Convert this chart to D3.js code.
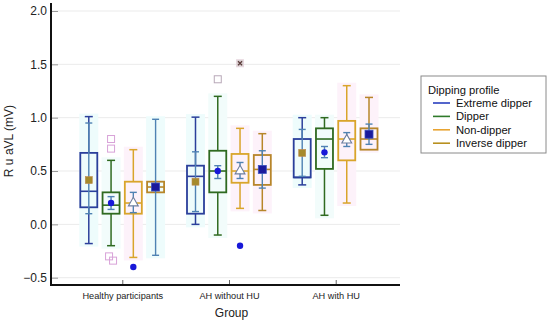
<!DOCTYPE html>
<html>
<head>
<meta charset="utf-8">
<script src="https://cdn.jsdelivr.net/npm/d3@7"></script>
<style>
  body { margin: 0; background: #fff; }
  text { font-family: "Liberation Sans", Arial, sans-serif; }
</style>
</head>
<body>
<svg id="chart"></svg>
<script>
const WIDTH = 550;
const HEIGHT = 322;

// groups and dipping profiles
const groups = ["Healthy participants", "AH without HU", "AH with HU"];
const profiles = ["Extreme dipper", "Dipper", "Non-dipper", "Inverse dipper"];
const yTicks = [-0.5, 0.0, 0.5, 1.0, 1.5, 2.0];

// box stats, one row per group, one value per profile
const whiskLo = [[-0.18, -0.20, -0.31, 0.30], [0.00, -0.10, 0.15, 0.13], [0.37, 0.085, 0.20, 0.70]];
const q1      = [[0.16, 0.10, 0.10, 0.30], [0.10, 0.30, 0.39, 0.37], [0.44, 0.52, 0.60, 0.70]];
const median  = [[0.31, 0.18, 0.20, 0.35], [0.45, 0.50, 0.50, 0.515], [0.44, 0.80, 0.80, 0.80]];
const q3      = [[0.67, 0.30, 0.40, 0.40], [0.55, 0.69, 0.66, 0.65], [0.80, 0.90, 0.97, 0.90]];
const whiskHi = [[1.01, 0.60, 0.70, 0.40], [1.005, 1.20, 0.90, 0.85], [1.00, 1.00, 1.30, 1.19]];
const means   = [[0.415, 0.20, 0.20, 0.35], [0.40, 0.50, 0.50, 0.515], [0.67, 0.675, 0.79, 0.845]];
const ciLo    = [[0.10, 0.14, 0.11, -0.29], [0.12, 0.43, 0.43, 0.34], [0.45, 0.625, 0.73, 0.75]];
const ciHi    = [[0.95, 0.26, 0.30, 0.985], [0.68, 0.55, 0.58, 0.69], [0.89, 0.73, 0.86, 0.94]];

// outliers: group index, profile index, value, kind, small x shift
const outGroup = [0, 0, 0, 0, 0, 1, 1, 1];
const outProf  = [1, 1, 1, 1, 2, 1, 2, 2];
const outValue = [0.80, 0.71, -0.30, -0.34, -0.40, 1.36, 1.51, -0.20];
const outKind  = ["pink", "pink", "pink", "pink", "dot", "open", "cross", "dot"];
const outShift = [0, 0, -2, 2, 0, 0, 0, 0];

const boxColors = ["#2b3f9b", "#2f6a20", "#d9a52b", "#b7862a"];
const legendColors = ["#2a3fbf", "#2f7a2a", "#e8a432", "#b8901f"];
const tints = ["#eefcfc", "#f2fcfb", "#fdf2fa", "#fdf2fa"];
const ciColor = "#4f82b3";

const svg = d3.select("#chart")
  .attr("width", WIDTH)
  .attr("height", HEIGHT);

const AX_LEFT = 51, AX_RIGHT = 400, AX_BOTTOM = 285, AX_TOP = 3;

const y = d3.scaleLinear().domain([-0.5, 2.0]).range([277.7, 11]);
const xGroup = d3.scalePoint().domain(groups).range([54, 404]).padding(0.64);
const xProf = d3.scalePoint().domain(profiles).range([-33.5, 33.3]);

const boxW = 17;
const capW = 8;
const ciCapW = 7;

// grid
svg.append("g")
  .selectAll("line")
  .data(yTicks)
  .join("line")
  .attr("x1", AX_LEFT)
  .attr("x2", AX_RIGHT)
  .attr("y1", d => y(d))
  .attr("y2", d => y(d))
  .attr("stroke", "#ebebeb")
  .attr("stroke-width", 1);

// y axis
const yAxis = d3.axisLeft(y).tickValues(yTicks).tickSize(-7).tickPadding(4)
  .tickFormat(d => d3.format(".1f")(d).replace("-", "\u2212"));
const gy = svg.append("g")
  .attr("transform", `translate(${AX_LEFT},0)`)
  .call(yAxis);
gy.select(".domain").remove();
gy.selectAll(".tick line").attr("stroke", "#999");
gy.selectAll("text").attr("font-size", 12).attr("fill", "#222")
  .attr("font-family", "Liberation Sans, Arial, sans-serif");

// x axis
const xAxis = d3.axisBottom(xGroup).tickSize(-5).tickPadding(7);
const gx = svg.append("g")
  .attr("transform", `translate(0,${AX_BOTTOM})`)
  .call(xAxis);
gx.select(".domain").remove();
gx.selectAll(".tick line").attr("stroke", "#666");
gx.selectAll("text").attr("font-size", 9.2).attr("fill", "#222")
  .attr("font-family", "Liberation Sans, Arial, sans-serif");

svg.append("line")
  .attr("x1", AX_LEFT).attr("x2", AX_LEFT)
  .attr("y1", AX_TOP).attr("y2", AX_BOTTOM + 1)
  .attr("stroke", "#111").attr("stroke-width", 2);
svg.append("line")
  .attr("x1", AX_LEFT - 1).attr("x2", AX_RIGHT)
  .attr("y1", AX_BOTTOM).attr("y2", AX_BOTTOM)
  .attr("stroke", "#111").attr("stroke-width", 2);

// titles
svg.append("text")
  .attr("x", (AX_LEFT + AX_RIGHT) / 2 + 6)
  .attr("y", 317)
  .attr("text-anchor", "middle")
  .attr("font-size", 12)
  .attr("fill", "#222")
  .text("Group");

svg.append("text")
  .attr("transform", "translate(13,141) rotate(-90)")
  .attr("text-anchor", "middle")
  .attr("font-size", 12)
  .attr("fill", "#222")
  .text("R u aVL (mV)");

// build boxes from the arrays
const boxes = [];
groups.forEach((g, gi) => {
  profiles.forEach((p, pi) => {
    boxes.push({
      g, p, pi,
      lo: whiskLo[gi][pi], q1: q1[gi][pi], med: median[gi][pi], q3: q3[gi][pi],
      hi: whiskHi[gi][pi], mean: means[gi][pi], ciLo: ciLo[gi][pi], ciHi: ciHi[gi][pi]
    });
  });
});

const cx = d => xGroup(d.g) + xProf(d.p);

const plot = svg.append("g");

// faint tint behind each box
plot.selectAll("rect.tint")
  .data(boxes)
  .join("rect")
  .attr("class", "tint")
  .attr("x", d => cx(d) - boxW / 2 - 1)
  .attr("width", boxW + 2)
  .attr("y", d => y(Math.max(d.hi, d.ciHi)) - 3)
  .attr("height", d => y(Math.min(d.lo, d.ciLo)) - y(Math.max(d.hi, d.ciHi)) + 6)
  .attr("fill", d => d.g === groups[0] && d.pi === 3 ? tints[0] : tints[d.pi]);

const bg = plot.selectAll("g.box")
  .data(boxes)
  .join("g")
  .attr("class", "box");

// whiskers
bg.append("line")
  .attr("x1", cx).attr("x2", cx)
  .attr("y1", d => y(d.hi)).attr("y2", d => y(d.q3))
  .attr("stroke", d => boxColors[d.pi]).attr("stroke-width", 1.5);
bg.append("line")
  .attr("x1", cx).attr("x2", cx)
  .attr("y1", d => y(d.q1)).attr("y2", d => y(d.lo))
  .attr("stroke", d => boxColors[d.pi]).attr("stroke-width", 1.5);
bg.filter(d => d.hi > d.q3).append("line")
  .attr("x1", d => cx(d) - capW / 2).attr("x2", d => cx(d) + capW / 2)
  .attr("y1", d => y(d.hi)).attr("y2", d => y(d.hi))
  .attr("stroke", d => boxColors[d.pi]).attr("stroke-width", 1.5);
bg.filter(d => d.lo < d.q1).append("line")
  .attr("x1", d => cx(d) - capW / 2).attr("x2", d => cx(d) + capW / 2)
  .attr("y1", d => y(d.lo)).attr("y2", d => y(d.lo))
  .attr("stroke", d => boxColors[d.pi]).attr("stroke-width", 1.5);

// box and median
bg.append("rect")
  .attr("x", d => cx(d) - boxW / 2)
  .attr("width", boxW)
  .attr("y", d => y(d.q3))
  .attr("height", d => y(d.q1) - y(d.q3))
  .attr("fill", "none")
  .attr("stroke", d => boxColors[d.pi])
  .attr("stroke-width", 1.8);
bg.append("line")
  .attr("x1", d => cx(d) - boxW / 2).attr("x2", d => cx(d) + boxW / 2)
  .attr("y1", d => y(d.med)).attr("y2", d => y(d.med))
  .attr("stroke", d => boxColors[d.pi]).attr("stroke-width", 1.6);

// confidence interval of the mean
bg.append("line")
  .attr("x1", cx).attr("x2", cx)
  .attr("y1", d => y(d.ciHi)).attr("y2", d => y(d.ciLo))
  .attr("stroke", ciColor).attr("stroke-width", 1.4);
["ciHi", "ciLo"].forEach(k => {
  bg.append("line")
    .attr("x1", d => cx(d) - ciCapW / 2).attr("x2", d => cx(d) + ciCapW / 2)
    .attr("y1", d => y(d[k])).attr("y2", d => y(d[k]))
    .attr("stroke", ciColor).attr("stroke-width", 1.4);
});

// mean markers
bg.filter(d => d.pi === 0).append("rect")
  .attr("x", d => cx(d) - 3.5).attr("y", d => y(d.mean) - 3.5)
  .attr("width", 7).attr("height", 7)
  .attr("fill", "#a58a2c").attr("stroke", "#c08a50").attr("stroke-width", 0.6);
bg.filter(d => d.pi === 1).append("circle")
  .attr("cx", cx).attr("cy", d => y(d.mean)).attr("r", 3.2)
  .attr("fill", "#1818d8");
bg.filter(d => d.pi === 2).append("path")
  .attr("transform", d => `translate(${cx(d)},${y(d.mean)})`)
  .attr("d", d3.symbol(d3.symbolTriangle, 42))
  .attr("fill", "#fff").attr("stroke", "#6f7f9f").attr("stroke-width", 1.1);
bg.filter(d => d.pi === 3).append("rect")
  .attr("x", d => cx(d) - 4).attr("y", d => y(d.mean) - 4)
  .attr("width", 8).attr("height", 8)
  .attr("fill", "#1a1a9c").attr("stroke", "#3a50c0").attr("stroke-width", 0.8);

// outliers
const outliers = outValue.map((v, i) => ({
  g: groups[outGroup[i]], p: profiles[outProf[i]], v, kind: outKind[i], dx: outShift[i]
}));
const og = plot.selectAll("g.out")
  .data(outliers)
  .join("g")
  .attr("class", "out")
  .attr("transform", d => `translate(${cx(d) + d.dx},${y(d.v)})`);
og.filter(d => d.kind === "pink").append("rect")
  .attr("x", -3.5).attr("y", -3.5).attr("width", 7).attr("height", 7)
  .attr("fill", "none").attr("stroke", "#d8a2d8").attr("stroke-width", 1);
og.filter(d => d.kind === "open").append("rect")
  .attr("x", -3.5).attr("y", -3.5).attr("width", 7).attr("height", 7)
  .attr("fill", "#fff").attr("stroke", "#b8a8b8").attr("stroke-width", 1);
og.filter(d => d.kind === "cross").append("rect")
  .attr("x", -3.5).attr("y", -3.5).attr("width", 7).attr("height", 7)
  .attr("fill", "#d8d0d0").attr("stroke", "#e8d8e0").attr("stroke-width", 1);
og.filter(d => d.kind === "cross").append("path")
  .attr("d", "M-2,-2L2,2M-2,2L2,-2")
  .attr("stroke", "#5a3a3a").attr("stroke-width", 1.2);
og.filter(d => d.kind === "dot").append("circle")
  .attr("r", 3.2).attr("fill", "#1818d8");

// legend
const legend = svg.append("g").attr("transform", "translate(421,76)");
legend.append("rect")
  .attr("width", 125).attr("height", 77)
  .attr("fill", "#fff").attr("stroke", "#8a8a8a").attr("stroke-width", 1);
legend.append("text")
  .attr("x", 7).attr("y", 18)
  .attr("font-size", 11.2).attr("fill", "#111")
  .text("Dipping profile");
const items = legend.selectAll("g.item")
  .data(profiles)
  .join("g")
  .attr("class", "item")
  .attr("transform", (d, i) => `translate(0,${27 + i * 13.4})`);
items.append("line")
  .attr("x1", 12).attr("x2", 29)
  .attr("stroke", (d, i) => legendColors[i]).attr("stroke-width", 1.6);
items.append("text")
  .attr("x", 35).attr("y", 4)
  .attr("font-size", 11.2).attr("fill", "#111")
  .text(d => d);
</script>
</body>
</html>
